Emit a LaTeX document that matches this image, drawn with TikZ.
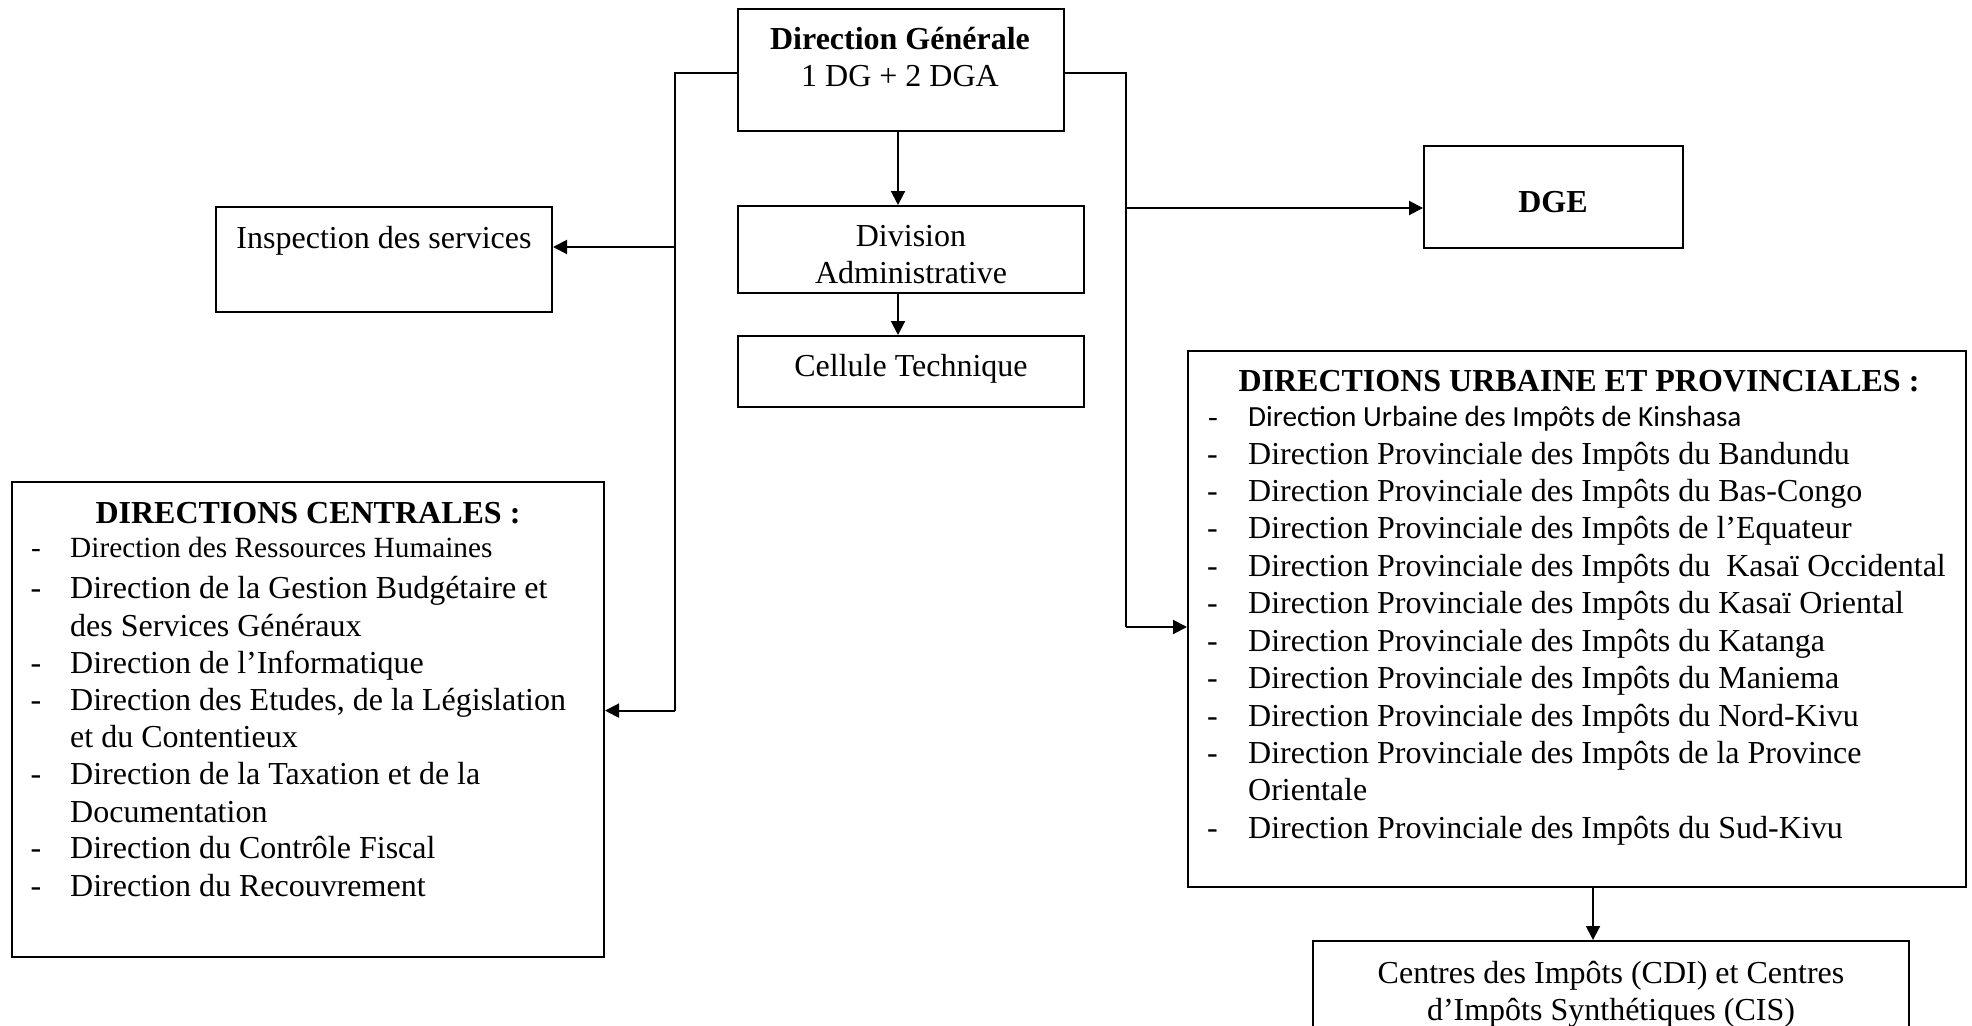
\documentclass[tikz,border=0pt]{standalone}
\usepackage{fontspec}
\setmainfont{Liberation Serif}
\newfontfamily\calibfont{Carlito}
\usetikzlibrary{arrows.meta}
\begin{document}
\begin{tikzpicture}[x=1pt,y=-1pt,
  box/.style={draw, line width=2pt, inner sep=0pt, rectangle},
  conn/.style={line width=2pt},
  arr/.style={line width=2pt, -{Triangle[length=14pt,width=14pt]}},
  txt/.style={inner sep=0pt, anchor=base, font=\fontsize{32}{37}\selectfont},
  txtb/.style={inner sep=0pt, anchor=base, font=\fontsize{32}{37}\selectfont\bfseries},
  item/.style={inner sep=0pt, anchor=base west, font=\fontsize{32}{37}\selectfont},
  itemsmall/.style={inner sep=0pt, anchor=base west, font=\fontsize{29.3}{34}\selectfont},
  itemcal/.style={inner sep=0pt, anchor=base west, font=\fontsize{29.2}{34}\calibfont},
]
\useasboundingbox (0,0) rectangle (1972,1025);
\clip (0,0) rectangle (1972,1025);

% boxes
\node[box, minimum width=326pt, minimum height=122pt] (dg) at (901,70) {};
\node[box, minimum width=346pt, minimum height=87pt] (div) at (911,249.5) {};
\node[box, minimum width=346pt, minimum height=71pt] (cell) at (911,371.5) {};
\node[box, minimum width=336pt, minimum height=105pt] (insp) at (384,259) {};
\node[box, minimum width=592pt, minimum height=475pt] (dc) at (308,719.5) {};
\node[box, minimum width=259pt, minimum height=102pt] (dge) at (1553.5,197) {};
\node[box, minimum width=778pt, minimum height=536.5pt] (du) at (1577,619) {};
\node[box, minimum width=596pt, minimum height=129pt] (cdi) at (1611,1005.5) {};

% connectors
\coordinate (ltop) at (675,73);
\coordinate (lins) at (675,247);
\coordinate (lbot) at (675,710.6);
\draw[conn] (dg.west |- ltop) -- (ltop) -- (lbot);
\draw[arr] (lins) -- (insp.east |- lins);
\draw[arr] (lbot) -- (dc.east |- lbot);

\coordinate (rtop) at (1126,73);
\coordinate (rdge) at (1126,208);
\coordinate (rbot) at (1126,627);
\draw[conn] (dg.east |- rtop) -- (rtop) -- (rbot);
\draw[arr] (rdge) -- (dge.west |- rdge);
\draw[arr] (rbot) -- (du.west |- rbot);

\coordinate (dgx) at (898,0);
\draw[arr] (dg.south -| dgx) -- (div.north -| dgx);
\draw[arr] (div.south -| dgx) -- (cell.north -| dgx);

\coordinate (dux) at (1593,0);
\draw[arr] (du.south -| dux) -- (cdi.north -| dux);

% texts
\node[txtb] (dgt1) at (900,49) {Direction Générale};
\node[txt] (dgt2) at (900,86) {1 DG + 2 DGA};
\node[txt] (divt1) at (911,246) {Division};
\node[txt] (divt2) at (911,283) {Administrative};
\node[txt] (cellt) at (911,376) {Cellule Technique};
\node[txt] (inspt) at (384,248) {Inspection des services};
\node[txtb] (dget) at (1553,212) {DGE};

\node[txtb] (dct) at (308,523) {DIRECTIONS CENTRALES :};
\node[itemsmall] (dcd1) at (31,557) {-};
\node[itemsmall] (dc1) at (70,557) {Direction des Ressources Humaines};
\node[item] (dcd2) at (30.5,598) {-};
\node[item] (dc2) at (70,598) {Direction de la Gestion Budgétaire et};
\node[item] (dc2b) at (70,636) {des Services Généraux};
\node[item] (dcd3) at (30.5,673) {-};
\node[item] (dc3) at (70,673) {Direction de l’Informatique};
\node[item] (dcd4) at (30.5,710) {-};
\node[item] (dc4) at (70,710) {Direction des Etudes, de la Législation};
\node[item] (dc4b) at (70,747) {et du Contentieux};
\node[item] (dcd5) at (30.5,784) {-};
\node[item] (dc5) at (70,784) {Direction de la Taxation et de la};
\node[item] (dc5b) at (70,822) {Documentation};
\node[item] (dcd6) at (30.5,858) {-};
\node[item] (dc6) at (70,858) {Direction du Contrôle Fiscal};
\node[item] (dcd7) at (30.5,896) {-};
\node[item] (dc7) at (70,896) {Direction du Recouvrement};

\node[txtb] (dut) at (1579,391.7) {DIRECTIONS URBAINE ET PROVINCIALES :};
\node[itemsmall] (dud1) at (1208,426) {-};
\node[itemcal] (du1) at (1248,426) {Direction Urbaine des Impôts de Kinshasa};
\node[item] (dud2) at (1207,464) {-};
\node[item] (du2) at (1248,464) {Direction Provinciale des Impôts du Bandundu};
\node[item] (dud3) at (1207,501) {-};
\node[item] (du3) at (1248,501) {Direction Provinciale des Impôts du Bas-Congo};
\node[item] (dud4) at (1207,538) {-};
\node[item] (du4) at (1248,538) {Direction Provinciale des Impôts de l’Equateur};
\node[item] (dud5) at (1207,576) {-};
\node[item] (du5) at (1248,576) {Direction Provinciale des Impôts du~ Kasaï Occidental};
\node[item] (dud6) at (1207,613) {-};
\node[item] (du6) at (1248,613) {Direction Provinciale des Impôts du Kasaï Oriental};
\node[item] (dud7) at (1207,651) {-};
\node[item] (du7) at (1248,651) {Direction Provinciale des Impôts du Katanga};
\node[item] (dud8) at (1207,688) {-};
\node[item] (du8) at (1248,688) {Direction Provinciale des Impôts du Maniema};
\node[item] (dud9) at (1207,726) {-};
\node[item] (du9) at (1248,726) {Direction Provinciale des Impôts du Nord-Kivu};
\node[item] (dud10) at (1207,763) {-};
\node[item] (du10) at (1248,763) {Direction Provinciale des Impôts de la Province};
\node[item] (du10b) at (1248,800) {Orientale};
\node[item] (dud11) at (1207,838) {-};
\node[item] (du11) at (1248,838) {Direction Provinciale des Impôts du Sud-Kivu};

\node[txt] (cdit1) at (1611,983) {Centres des Impôts (CDI) et Centres};
\node[txt] (cdit2) at (1611,1020) {d’Impôts Synthétiques (CIS)};
\end{tikzpicture}
\end{document}
